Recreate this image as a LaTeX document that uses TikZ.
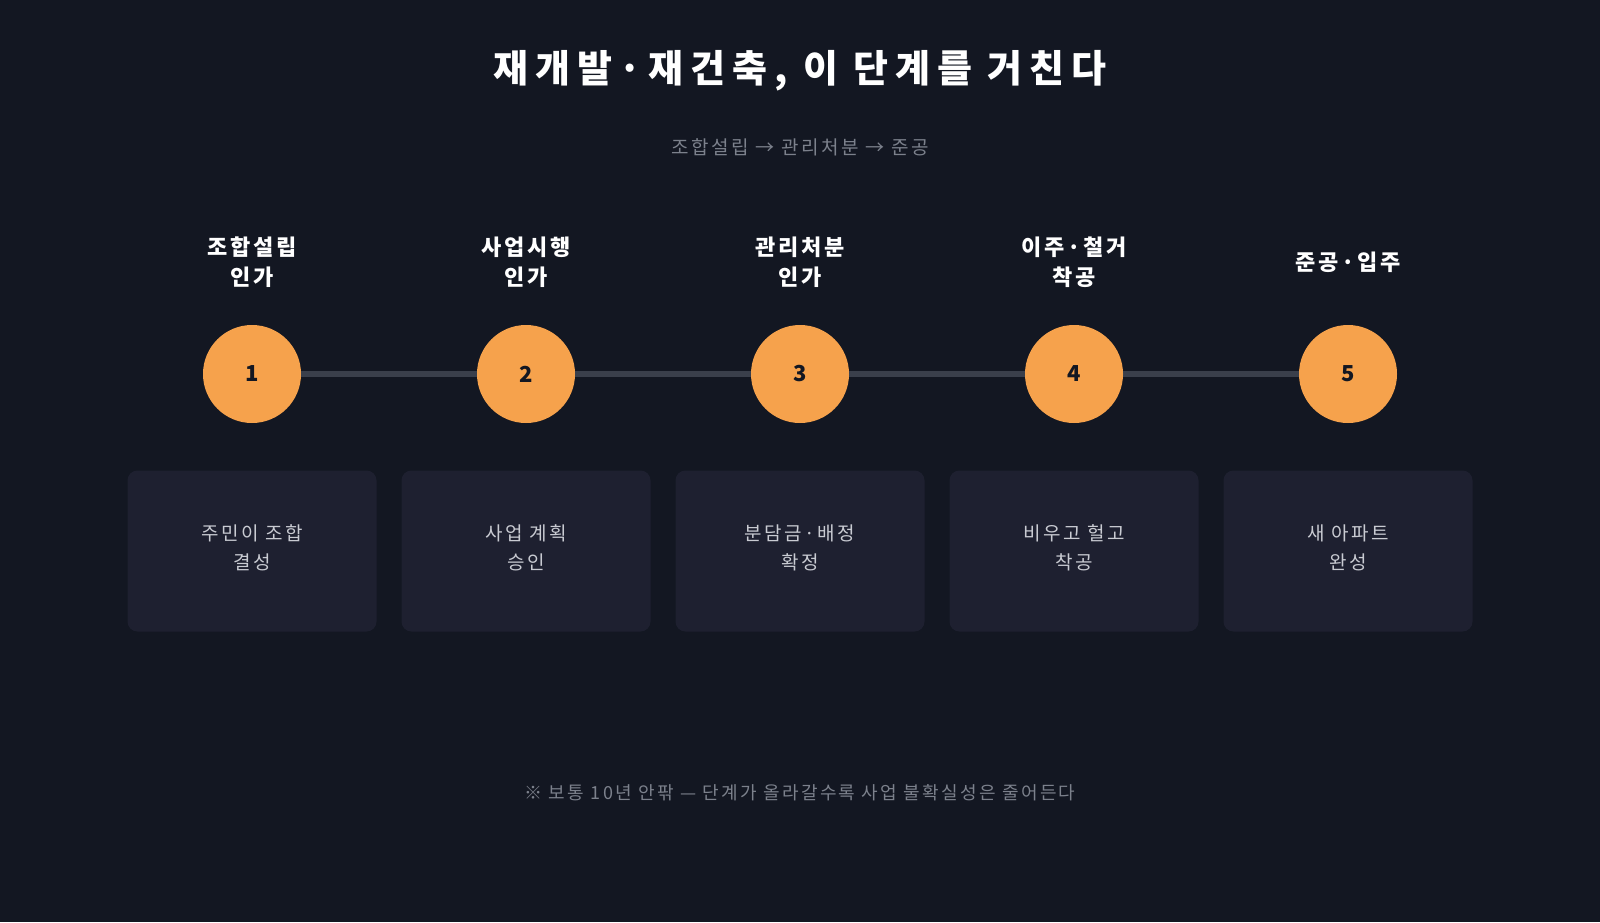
\documentclass[tikz,border=0pt]{standalone}
\usepackage{fontspec}
\setmainfont{Noto Sans CJK KR}[LetterSpace=13]
\definecolor{bgdark}{HTML}{131722}
\definecolor{cardbg}{HTML}{1E2030}
\definecolor{stepor}{HTML}{F6A24C}
\definecolor{trackgr}{HTML}{3A3F4B}
\definecolor{mutegr}{HTML}{7C818C}
\definecolor{softwh}{HTML}{C9CBD2}
\begin{document}
\begin{tikzpicture}[x=1pt,y=-1pt,
  stepdot/.style={circle,fill=stepor,minimum size=98pt,inner sep=0pt,
    font=\fontsize{22}{26}\selectfont\bfseries,text=bgdark},
  steptitle/.style={align=center,text=white,font=\fontsize{22}{30}\selectfont\bfseries},
  stepcard/.style={fill=cardbg,rounded corners=10pt,minimum width=249pt,minimum height=161pt,inner sep=0pt},
  cardtext/.style={align=center,text=softwh,font=\fontsize{19}{29}\selectfont}]
\fill[bgdark] (0,0) rectangle (1600,922);
\useasboundingbox (0,0) rectangle (1600,922);
\node[text=white,font=\fontsize{38}{44}\selectfont\bfseries\addfontfeature{LetterSpace=18}] (title) at (800,71) {재개발·재건축, 이 단계를 거친다};
\node[text=mutegr,font=\fontsize{19}{24}\selectfont] (sub) at (800,147) {조합설립 → 관리처분 → 준공};
% track
\draw[trackgr,line width=6pt] (252,374) -- (1348,374);
\foreach \i/\x/\t/\d in {1/252/{조합설립\\인가}/{주민이 조합\\결성},
                         2/526/{사업시행\\인가}/{사업 계획\\승인},
                         3/800/{관리처분\\인가}/{분담금·배정\\확정},
                         4/1074/{이주·철거\\착공}/{비우고 헐고\\착공},
                         5/1348/{준공·입주}/{새 아파트\\완성}} {
  \node[stepdot] (dot\i) at (\x,374) {\i};
  \node[steptitle] (lab\i) at (\x,262) {\t};
  \node[stepcard] (card\i) at (\x,551) {};
  \node[cardtext] (txt\i) at (\x,548) {\d};
}
\node[text=mutegr,font=\fontsize{18}{22}\selectfont] (note) at (800,793) {※ 보통 10년 안팎 — 단계가 올라갈수록 사업 불확실성은 줄어든다};
\end{tikzpicture}
\end{document}
